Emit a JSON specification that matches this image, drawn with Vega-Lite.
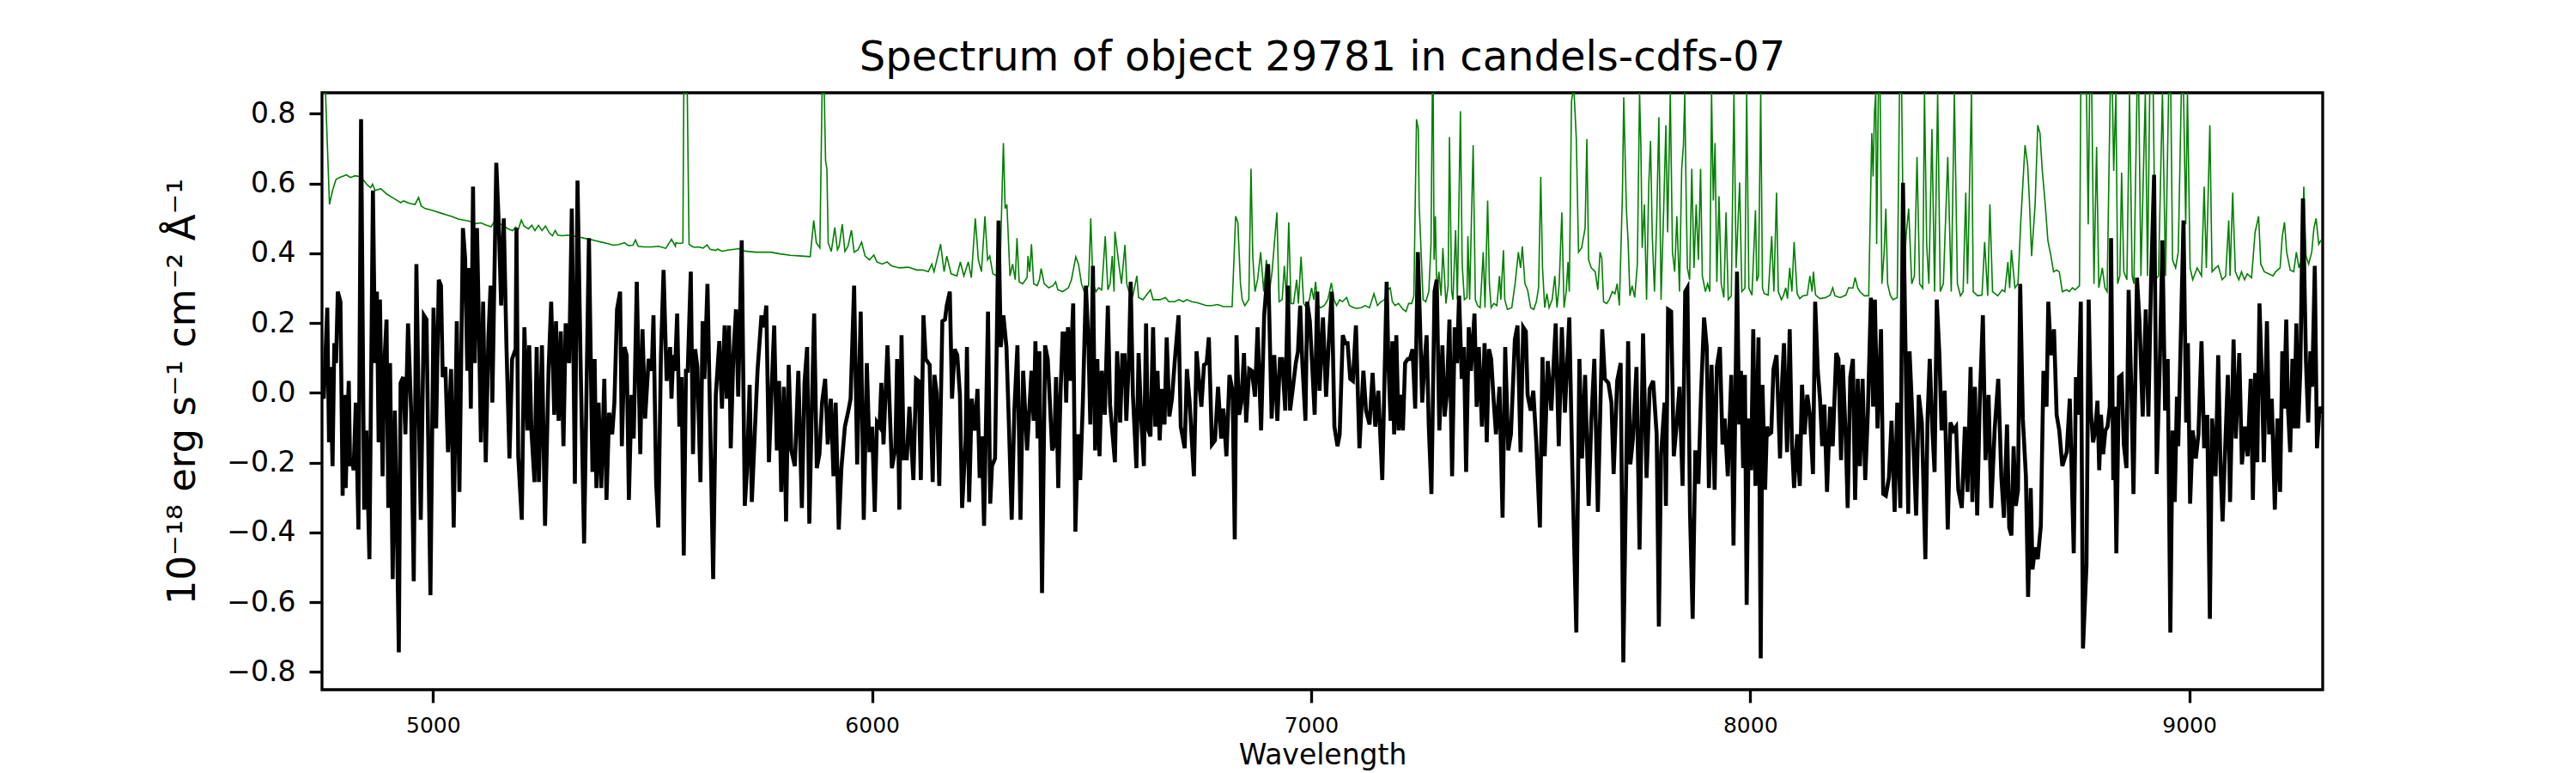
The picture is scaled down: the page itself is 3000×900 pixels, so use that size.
{
  "$schema": "https://vega.github.io/schema/vega-lite/v6.json",
  "autosize": {"type": "none"},
  "width": 2330,
  "height": 695,
  "padding": {"left": 375, "top": 108, "right": 295, "bottom": 97},
  "background": "white",
  "title": {
    "text": "Spectrum of object 29781 in candels-cdfs-07",
    "font": "DejaVu Sans",
    "fontSize": 48,
    "fontWeight": "normal",
    "color": "black",
    "anchor": "middle",
    "frame": "group",
    "baseline": "bottom",
    "offset": 14,
    "dy": 46
  },
  "config": {
    "view": {"stroke": "black", "strokeWidth": 3.3},
    "axis": {
      "grid": false,
      "domain": false,
      "ticks": true,
      "tickColor": "black",
      "tickWidth": 3.3,
      "tickSize": 15,
      "labelColor": "black",
      "labelFont": "DejaVu Sans",
      "titleFont": "DejaVu Sans",
      "titleColor": "black",
      "titleFontWeight": "normal"
    },
    "axisX": {"labelFontSize": 25, "labelPadding": 14, "titleFontSize": 33, "titlePadding": 6},
    "axisY": {"labelFontSize": 33, "labelPadding": 16, "titleFontSize": 45, "titlePadding": 28}
  },
  "datasets": {
    "flux": [
      {"w":4749,"f":-0.006},{"w":4751,"f":-0.017},{"w":4759,"f":0.244},{"w":4763,"f":-0.142},{"w":4766,"f":0.074},{"w":4771,"f":-0.210},{"w":4775,"f":0.142},{"w":4779,"f":0.085},{"w":4783,"f":0.290},{"w":4789,"f":0.261},
      {"w":4794,"f":-0.295},{"w":4798,"f":-0.006},{"w":4801,"f":-0.273},{"w":4804,"f":-0.119},{"w":4808,"f":0.034},{"w":4811,"f":-0.210},{"w":4815,"f":-0.188},{"w":4819,"f":-0.222},{"w":4824,"f":-0.028},{"w":4830,"f":-0.392},
      {"w":4836,"f":0.784},{"w":4843,"f":-0.335},{"w":4848,"f":-0.108},{"w":4855,"f":-0.477},{"w":4863,"f":0.580},{"w":4868,"f":0.085},{"w":4872,"f":0.290},{"w":4876,"f":-0.142},{"w":4879,"f":0.267},{"w":4885,"f":-0.239},
      {"w":4889,"f":0.085},{"w":4894,"f":0.210},{"w":4898,"f":-0.330},{"w":4902,"f":0.085},{"w":4908,"f":-0.534},{"w":4913,"f":-0.051},{"w":4917,"f":-0.335},{"w":4922,"f":-0.744},{"w":4926,"f":0.028},{"w":4932,"f":0.045},
      {"w":4937,"f":-0.119},{"w":4943,"f":0.199},{"w":4950,"f":-0.051},{"w":4956,"f":-0.540},{"w":4962,"f":0.369},{"w":4966,"f":0.063},{"w":4972,"f":-0.364},{"w":4979,"f":0.222},{"w":4985,"f":0.210},{"w":4994,"f":-0.580},
      {"w":5001,"f":0.244},{"w":5007,"f":-0.102},{"w":5013,"f":0.324},{"w":5018,"f":0.307},{"w":5022,"f":0.045},{"w":5028,"f":0.074},{"w":5034,"f":-0.170},{"w":5041,"f":0.068},{"w":5047,"f":-0.386},{"w":5054,"f":0.205},
      {"w":5060,"f":-0.284},{"w":5068,"f":0.472},{"w":5073,"f":0.386},{"w":5078,"f":0.063},{"w":5081,"f":0.358},{"w":5086,"f":-0.045},{"w":5091,"f":0.591},{"w":5095,"f":0.085},{"w":5100,"f":0.472},{"w":5105,"f":0.153},
      {"w":5109,"f":-0.142},{"w":5114,"f":0.261},{"w":5120,"f":-0.199},{"w":5126,"f":0.159},{"w":5131,"f":0.307},{"w":5135,"f":-0.028},{"w":5144,"f":0.659},{"w":5150,"f":0.472},{"w":5155,"f":0.250},{"w":5161,"f":0.500},
      {"w":5167,"f":0.142},{"w":5174,"f":-0.188},{"w":5180,"f":0.097},{"w":5188,"f":0.125},{"w":5190,"f":0.472},{"w":5194,"f":-0.182},{"w":5202,"f":-0.364},{"w":5208,"f":0.188},{"w":5215,"f":-0.108},{"w":5219,"f":0.136},
      {"w":5224,"f":-0.108},{"w":5231,"f":-0.256},{"w":5236,"f":0.131},{"w":5241,"f":-0.256},{"w":5248,"f":0.136},{"w":5255,"f":-0.381},{"w":5263,"f":0.063},{"w":5269,"f":0.261},{"w":5276,"f":-0.063},{"w":5280,"f":0.205},
      {"w":5286,"f":-0.080},{"w":5291,"f":0.176},{"w":5297,"f":-0.153},{"w":5302,"f":0.199},{"w":5310,"f":0.085},{"w":5316,"f":0.528},{"w":5323,"f":-0.261},{"w":5329,"f":0.608},{"w":5336,"f":0.085},{"w":5344,"f":-0.432},
      {"w":5355,"f":0.443},{"w":5363,"f":-0.227},{"w":5368,"f":0.097},{"w":5372,"f":-0.273},{"w":5377,"f":-0.028},{"w":5383,"f":-0.273},{"w":5390,"f":0.040},{"w":5395,"f":-0.307},{"w":5401,"f":-0.057},{"w":5408,"f":-0.119},
      {"w":5413,"f":-0.028},{"w":5419,"f":0.239},{"w":5426,"f":0.290},{"w":5430,"f":-0.153},{"w":5436,"f":0.131},{"w":5441,"f":0.108},{"w":5446,"f":-0.307},{"w":5452,"f":-0.006},{"w":5457,"f":-0.131},{"w":5464,"f":0.318},
      {"w":5472,"f":-0.176},{"w":5477,"f":0.182},{"w":5483,"f":-0.074},{"w":5491,"f":0.097},{"w":5498,"f":0.063},{"w":5502,"f":0.222},{"w":5508,"f":-0.256},{"w":5513,"f":-0.386},{"w":5519,"f":0.108},{"w":5525,"f":0.352},
      {"w":5532,"f":0.034},
      {"w":5540,"f":0.131},{"w":5543,"f":-0.017},{"w":5547,"f":0.108},{"w":5551,"f":0.063},{"w":5556,"f":0.227},{"w":5561,"f":-0.097},{"w":5566,"f":0.045},{"w":5571,"f":-0.466},{"w":5576,"f":0.063},{"w":5580,"f":0.063},
      {"w":5587,"f":0.347},{"w":5592,"f":-0.176},{"w":5597,"f":0.125},{"w":5602,"f":0.074},{"w":5609,"f":-0.256},{"w":5614,"f":0.205},{"w":5618,"f":0.040},{"w":5625,"f":0.312},{"w":5631,"f":-0.074},{"w":5638,"f":-0.534},
      {"w":5644,"f":-0.006},{"w":5652,"f":0.148},{"w":5658,"f":-0.045},{"w":5664,"f":0.193},{"w":5669,"f":-0.017},{"w":5674,"f":0.193},{"w":5678,"f":-0.159},{"w":5684,"f":0.108},{"w":5690,"f":0.239},{"w":5695,"f":-0.011},
      {"w":5703,"f":0.437},{"w":5710,"f":-0.324},{"w":5715,"f":-0.222},{"w":5721,"f":0.023},{"w":5726,"f":-0.313},{"w":5733,"f":-0.108},{"w":5739,"f":0.063},{"w":5748,"f":0.222},{"w":5754,"f":0.188},{"w":5759,"f":0.250},
      {"w":5765,"f":-0.199},{"w":5772,"f":0.040},{"w":5777,"f":0.193},{"w":5783,"f":-0.165},{"w":5788,"f":0.034},{"w":5793,"f":-0.284},{"w":5799,"f":0.017},{"w":5804,"f":-0.369},{"w":5810,"f":0.080},{"w":5816,"f":-0.165},
      {"w":5824,"f":-0.210},{"w":5832,"f":0.063},{"w":5840,"f":-0.330},{"w":5846,"f":0.028},{"w":5852,"f":0.131},{"w":5857,"f":-0.375},{"w":5863,"f":-0.028},{"w":5868,"f":0.227},{"w":5874,"f":-0.216},{"w":5880,"f":-0.176},
      {"w":5886,"f":-0.028},{"w":5893,"f":0.040},{"w":5899,"f":-0.148},{"w":5906,"f":-0.017},{"w":5912,"f":-0.239},{"w":5917,"f":-0.028},{"w":5924,"f":-0.392},{"w":5930,"f":-0.216},{"w":5938,"f":-0.097},{"w":5946,"f":-0.051},
      {"w":5951,"f":-0.017},{"w":5959,"f":0.307},{"w":5966,"f":-0.205},{"w":5974,"f":0.233},{"w":5981,"f":-0.364},{"w":5988,"f":0.085},{"w":5994,"f":-0.170},{"w":6000,"f":-0.097},{"w":6006,"f":-0.341},{"w":6011,"f":-0.085},
      {"w":6017,"f":-0.097},{"w":6021,"f":0.028},{"w":6026,"f":-0.148},{"w":6035,"f":0.136},{"w":6045,"f":-0.216},{"w":6053,"f":-0.159},{"w":6057,"f":0.097},{"w":6062,"f":-0.335},{"w":6067,"f":0.165},{"w":6072,"f":-0.188},
      {"w":6079,"f":-0.188},{"w":6085,"f":-0.040},{"w":6094,"f":-0.250},{"w":6100,"f":0.040},{"w":6106,"f":0.034},{"w":6111,"f":-0.250},{"w":6117,"f":0.222},{"w":6122,"f":0.097},{"w":6131,"f":0.080},{"w":6138,"f":-0.256},
      {"w":6142,"f":0.051},{"w":6147,"f":0.000},{"w":6153,"f":-0.267},{"w":6160,"f":0.205},{"w":6166,"f":0.210},{"w":6170,"f":0.250},{"w":6177,"f":0.290},{"w":6182,"f":-0.017},{"w":6188,"f":0.125},{"w":6194,"f":0.108},
      {"w":6200,"f":-0.006},{"w":6205,"f":-0.330},{"w":6213,"f":-0.136},{"w":6216,"f":0.131},{"w":6221,"f":-0.313},{"w":6227,"f":-0.017},{"w":6234,"f":-0.108},{"w":6240,"f":0.011},{"w":6245,"f":-0.244},{"w":6250,"f":-0.125},
      {"w":6255,"f":-0.381},{"w":6264,"f":0.233},{"w":6269,"f":-0.318},{"w":6273,"f":-0.210},{"w":6280,"f":-0.188},{"w":6288,"f":0.494},{"w":6293,"f":0.131},{"w":6299,"f":0.222},{"w":6306,"f":0.131},{"w":6312,"f":-0.108},
      {"w":6318,"f":-0.364},{"w":6324,"f":-0.051},{"w":6331,"f":0.136},{"w":6338,"f":-0.364},{"w":6344,"f":0.063},{"w":6353,"f":-0.165},
      {"w":6363,"f":0.063},{"w":6368,"f":-0.080},{"w":6372,"f":0.148},{"w":6377,"f":-0.131},{"w":6381,"f":0.119},{"w":6387,"f":-0.574},{"w":6394,"f":0.136},{"w":6400,"f":0.097},{"w":6405,"f":-0.028},{"w":6410,"f":-0.165},
      {"w":6415,"f":-0.148},{"w":6419,"f":0.045},{"w":6424,"f":-0.273},{"w":6429,"f":-0.006},{"w":6434,"f":0.170},{"w":6438,"f":0.170},{"w":6442,"f":-0.028},{"w":6446,"f":0.188},{"w":6451,"f":0.034},{"w":6458,"f":0.256},
      {"w":6463,"f":-0.398},{"w":6469,"f":-0.119},{"w":6474,"f":-0.250},{"w":6480,"f":-0.028},{"w":6487,"f":0.307},{"w":6493,"f":0.131},{"w":6497,"f":-0.091},{"w":6503,"f":0.364},{"w":6508,"f":-0.165},{"w":6513,"f":0.097},
      {"w":6518,"f":-0.182},{"w":6523,"f":0.063},{"w":6530,"f":-0.063},{"w":6537,"f":0.250},{"w":6542,"f":-0.034},{"w":6547,"f":-0.108},{"w":6553,"f":-0.199},{"w":6558,"f":0.119},{"w":6565,"f":-0.085},{"w":6570,"f":0.108},
      {"w":6575,"f":0.108},{"w":6579,"f":-0.080},{"w":6585,"f":0.102},{"w":6589,"f":0.318},{"w":6594,"f":-0.006},{"w":6602,"f":-0.216},{"w":6607,"f":0.114},{"w":6613,"f":-0.074},{"w":6619,"f":-0.210},{"w":6624,"f":0.199},
      {"w":6628,"f":-0.102},{"w":6634,"f":-0.125},{"w":6640,"f":0.188},{"w":6645,"f":-0.097},{"w":6650,"f":0.063},{"w":6655,"f":-0.136},{"w":6660,"f":0.011},{"w":6666,"f":-0.091},{"w":6671,"f":0.159},{"w":6677,"f":-0.068},
      {"w":6683,"f":-0.017},{"w":6689,"f":0.085},{"w":6698,"f":0.222},{"w":6703,"f":-0.097},{"w":6712,"f":-0.159},{"w":6717,"f":0.068},{"w":6723,"f":-0.023},{"w":6733,"f":-0.239},{"w":6739,"f":0.119},{"w":6745,"f":0.028},
      {"w":6750,"f":-0.040},{"w":6756,"f":0.080},{"w":6762,"f":0.085},{"w":6767,"f":0.159},{"w":6774,"f":-0.148},{"w":6781,"f":-0.136},{"w":6788,"f":0.017},{"w":6795,"f":-0.131},{"w":6800,"f":-0.045},{"w":6807,"f":-0.182},
      {"w":6814,"f":0.051},{"w":6821,"f":0.006},{"w":6826,"f":-0.420},{"w":6830,"f":0.165},{"w":6836,"f":-0.063},{"w":6841,"f":-0.028},{"w":6847,"f":0.114},{"w":6852,"f":-0.085},{"w":6859,"f":0.068},{"w":6865,"f":0.063},
      {"w":6872,"f":-0.011},{"w":6878,"f":0.188},{"w":6886,"f":-0.108},{"w":6893,"f":0.222},{"w":6902,"f":0.369},{"w":6910,"f":-0.074},{"w":6916,"f":0.108},{"w":6923,"f":-0.080},{"w":6929,"f":0.097},{"w":6934,"f":0.097},
      {"w":6941,"f":-0.051},{"w":6947,"f":0.307},{"w":6952,"f":-0.051},{"w":6958,"f":0.011},{"w":6965,"f":0.085},{"w":6970,"f":0.119},{"w":6975,"f":0.250},{"w":6980,"f":0.085},{"w":6987,"f":-0.080},{"w":6991,"f":0.261},
      {"w":6997,"f":0.205},{"w":7003,"f":0.063},{"w":7008,"f":-0.063},{"w":7014,"f":0.290},{"w":7019,"f":0.006},{"w":7027,"f":0.216},{"w":7034,"f":-0.011},{"w":7040,"f":0.142},{"w":7047,"f":0.290},{"w":7053,"f":-0.097},
      {"w":7060,"f":-0.153},{"w":7065,"f":-0.119},{"w":7072,"f":0.165},{"w":7078,"f":0.142},{"w":7083,"f":0.142},{"w":7089,"f":0.040},{"w":7095,"f":0.034},{"w":7102,"f":0.193},{"w":7110,"f":-0.159},{"w":7119,"f":0.063},
      {"w":7125,"f":-0.051},{"w":7133,"f":-0.091},{"w":7140,"f":0.057},{"w":7146,"f":-0.097},{"w":7153,"f":0.006},{"w":7162,"f":-0.250},
      {"w":7172,"f":0.318},{"w":7176,"f":0.085},{"w":7181,"f":-0.080},{"w":7185,"f":0.148},{"w":7189,"f":-0.119},{"w":7194,"f":0.165},{"w":7199,"f":-0.108},{"w":7204,"f":-0.006},{"w":7209,"f":-0.108},{"w":7214,"f":0.085},
      {"w":7220,"f":0.097},{"w":7225,"f":0.097},{"w":7231,"f":0.125},{"w":7237,"f":-0.045},{"w":7243,"f":0.403},{"w":7248,"f":0.199},{"w":7253,"f":-0.028},{"w":7258,"f":0.085},{"w":7263,"f":0.165},{"w":7268,"f":-0.097},
      {"w":7274,"f":-0.290},{"w":7281,"f":0.290},{"w":7286,"f":0.324},{"w":7292,"f":-0.108},{"w":7299,"f":0.136},{"w":7304,"f":-0.068},{"w":7309,"f":-0.006},{"w":7315,"f":0.210},{"w":7321,"f":-0.239},{"w":7327,"f":0.188},
      {"w":7332,"f":0.085},{"w":7337,"f":0.278},{"w":7343,"f":0.040},{"w":7348,"f":0.131},{"w":7353,"f":-0.227},{"w":7359,"f":0.188},{"w":7364,"f":0.063},{"w":7372,"f":0.227},{"w":7377,"f":-0.040},{"w":7382,"f":0.131},
      {"w":7389,"f":-0.097},{"w":7395,"f":0.142},{"w":7400,"f":-0.142},{"w":7405,"f":0.125},{"w":7410,"f":0.097},{"w":7416,"f":-0.028},{"w":7421,"f":-0.119},{"w":7429,"f":0.017},{"w":7436,"f":-0.358},{"w":7442,"f":0.131},
      {"w":7449,"f":-0.165},{"w":7455,"f":-0.119},{"w":7464,"f":0.153},{"w":7470,"f":0.193},{"w":7477,"f":-0.170},{"w":7483,"f":0.188},{"w":7489,"f":0.176},{"w":7493,"f":-0.006},{"w":7500,"f":-0.051},{"w":7506,"f":0.006},
      {"w":7513,"f":-0.148},{"w":7521,"f":-0.386},{"w":7527,"f":0.102},{"w":7532,"f":-0.182},{"w":7539,"f":0.091},{"w":7547,"f":-0.051},{"w":7557,"f":0.199},{"w":7564,"f":-0.153},{"w":7571,"f":0.188},{"w":7578,"f":-0.057},
      {"w":7588,"f":0.216},{"w":7595,"f":-0.222},{"w":7604,"f":-0.687},{"w":7611,"f":0.097},{"w":7617,"f":-0.188},{"w":7624,"f":0.051},{"w":7632,"f":-0.324},{"w":7638,"f":-0.085},{"w":7645,"f":0.097},{"w":7653,"f":-0.341},
      {"w":7663,"f":0.182},{"w":7669,"f":0.040},{"w":7677,"f":0.028},{"w":7684,"f":-0.028},{"w":7689,"f":-0.233},{"w":7697,"f":0.034},{"w":7705,"f":0.085},{"w":7711,"f":-0.773},{"w":7722,"f":0.148},{"w":7727,"f":-0.205},
      {"w":7733,"f":-0.131},{"w":7741,"f":0.074},{"w":7748,"f":-0.449},{"w":7756,"f":0.170},{"w":7764,"f":-0.244},{"w":7771,"f":0.011},{"w":7779,"f":0.034},{"w":7787,"f":-0.119},{"w":7792,"f":-0.670},{"w":7797,"f":-0.176},
      {"w":7805,"f":-0.028},{"w":7808,"f":-0.324},{"w":7813,"f":0.239},{"w":7820,"f":0.233},{"w":7826,"f":-0.182},{"w":7833,"f":-0.085},{"w":7839,"f":0.017},{"w":7846,"f":-0.267},{"w":7852,"f":0.290},{"w":7857,"f":0.301},
      {"w":7863,"f":-0.347},{"w":7869,"f":-0.648},{"w":7875,"f":-0.165},{"w":7882,"f":-0.261},{"w":7888,"f":-0.006},{"w":7895,"f":0.216},{"w":7901,"f":0.131},{"w":7906,"f":-0.273},{"w":7912,"f":0.080},{"w":7919,"f":-0.278},
      {"w":7924,"f":0.074},{"w":7931,"f":0.131},{"w":7937,"f":-0.148},{"w":7942,"f":-0.074},{"w":7949,"f":-0.239},{"w":7957,"f":0.051},{"w":7962,"f":-0.438},
      {"w":7970,"f":0.347},{"w":7975,"f":-0.091},{"w":7979,"f":0.063},{"w":7984,"f":-0.216},{"w":7988,"f":0.051},{"w":7992,"f":-0.608},{"w":7997,"f":-0.074},{"w":8002,"f":-0.222},{"w":8007,"f":0.182},{"w":8012,"f":-0.267},
      {"w":8019,"f":0.159},{"w":8024,"f":-0.761},{"w":8028,"f":0.023},{"w":8034,"f":-0.278},{"w":8038,"f":-0.097},{"w":8043,"f":-0.119},{"w":8048,"f":-0.114},{"w":8053,"f":0.068},{"w":8060,"f":0.108},{"w":8068,"f":-0.188},
      {"w":8073,"f":0.040},{"w":8077,"f":0.142},{"w":8084,"f":-0.170},{"w":8090,"f":0.182},{"w":8095,"f":-0.142},{"w":8100,"f":-0.273},{"w":8107,"f":-0.119},{"w":8113,"f":-0.267},{"w":8118,"f":0.023},{"w":8124,"f":-0.119},
      {"w":8130,"f":-0.006},{"w":8136,"f":-0.063},{"w":8143,"f":-0.233},{"w":8148,"f":0.261},{"w":8154,"f":0.063},{"w":8159,"f":-0.017},{"w":8164,"f":-0.153},{"w":8169,"f":-0.034},{"w":8175,"f":-0.284},{"w":8182,"f":-0.040},
      {"w":8188,"f":-0.153},{"w":8196,"f":0.114},{"w":8201,"f":0.097},{"w":8207,"f":-0.193},{"w":8211,"f":0.080},{"w":8218,"f":-0.142},{"w":8222,"f":-0.330},{"w":8228,"f":0.045},{"w":8234,"f":0.097},{"w":8239,"f":-0.307},
      {"w":8245,"f":0.040},{"w":8250,"f":-0.210},{"w":8256,"f":0.040},{"w":8262,"f":-0.250},{"w":8268,"f":-0.057},{"w":8275,"f":0.273},{"w":8280,"f":-0.040},{"w":8284,"f":0.267},{"w":8290,"f":-0.102},{"w":8298,"f":0.182},
      {"w":8303,"f":-0.290},{"w":8309,"f":-0.295},{"w":8316,"f":-0.244},{"w":8322,"f":-0.080},{"w":8329,"f":-0.341},{"w":8335,"f":-0.028},{"w":8342,"f":-0.330},{"w":8348,"f":0.602},{"w":8355,"f":0.028},{"w":8360,"f":-0.347},
      {"w":8363,"f":0.119},{"w":8370,"f":-0.085},{"w":8378,"f":-0.352},{"w":8384,"f":-0.006},{"w":8391,"f":-0.085},{"w":8399,"f":-0.477},{"w":8404,"f":-0.074},{"w":8409,"f":0.097},{"w":8415,"f":-0.108},{"w":8420,"f":-0.227},
      {"w":8425,"f":0.267},{"w":8431,"f":0.108},{"w":8436,"f":-0.108},{"w":8443,"f":0.006},{"w":8450,"f":-0.392},{"w":8456,"f":-0.085},{"w":8463,"f":-0.108},{"w":8469,"f":-0.097},{"w":8474,"f":-0.278},{"w":8482,"f":-0.330},
      {"w":8489,"f":-0.097},{"w":8495,"f":-0.284},{"w":8502,"f":0.074},{"w":8506,"f":-0.313},{"w":8512,"f":0.017},{"w":8517,"f":-0.352},{"w":8523,"f":-0.023},{"w":8530,"f":0.222},{"w":8536,"f":-0.193},{"w":8543,"f":-0.006},
      {"w":8549,"f":-0.330},{"w":8557,"f":-0.102},{"w":8565,"f":0.040},{"w":8572,"f":-0.239},{"w":8578,"f":-0.358},{"w":8585,"f":-0.091},{"w":8590,"f":-0.386},{"w":8595,"f":-0.409},{"w":8600,"f":-0.153},{"w":8605,"f":-0.324},
      {"w":8610,"f":-0.278},{"w":8615,"f":0.312},{"w":8621,"f":-0.074},{"w":8628,"f":-0.239},{"w":8633,"f":-0.585},{"w":8639,"f":-0.273},{"w":8643,"f":-0.506},{"w":8649,"f":-0.443},{"w":8655,"f":-0.477},{"w":8662,"f":-0.381},
      {"w":8668,"f":0.063},{"w":8675,"f":-0.040},{"w":8679,"f":0.261},{"w":8685,"f":0.108},{"w":8692,"f":0.182},{"w":8698,"f":-0.063},{"w":8704,"f":-0.108},{"w":8711,"f":-0.210},{"w":8721,"f":-0.170},{"w":8728,"f":-0.017},
      {"w":8737,"f":-0.460},{"w":8742,"f":0.045},{"w":8747,"f":-0.063},{"w":8753,"f":0.261},{"w":8758,"f":-0.733},{"w":8766,"f":-0.494},{"w":8771,"f":0.267},
      {"w":8776,"f":-0.051},{"w":8781,"f":-0.142},{"w":8786,"f":-0.108},{"w":8791,"f":-0.023},{"w":8795,"f":-0.222},{"w":8799,"f":-0.063},{"w":8804,"f":-0.176},{"w":8809,"f":-0.108},{"w":8814,"f":-0.097},{"w":8819,"f":-0.040},
      {"w":8822,"f":0.443},{"w":8827,"f":-0.250},{"w":8830,"f":-0.040},{"w":8834,"f":-0.460},{"w":8840,"f":0.045},{"w":8846,"f":0.051},{"w":8851,"f":-0.148},{"w":8857,"f":-0.216},{"w":8862,"f":0.295},{"w":8868,"f":0.017},
      {"w":8873,"f":-0.290},{"w":8881,"f":0.330},{"w":8887,"f":0.199},{"w":8894,"f":-0.068},{"w":8901,"f":0.239},{"w":8907,"f":-0.068},{"w":8913,"f":0.318},{"w":8920,"f":0.625},{"w":8926,"f":-0.233},{"w":8933,"f":0.085},
      {"w":8939,"f":0.437},{"w":8945,"f":-0.051},{"w":8951,"f":0.097},{"w":8957,"f":-0.687},{"w":8962,"f":-0.108},{"w":8967,"f":-0.313},{"w":8972,"f":-0.011},{"w":8975,"f":-0.153},{"w":8981,"f":0.170},{"w":8987,"f":0.494},
      {"w":8993,"f":-0.085},{"w":8997,"f":0.142},{"w":9002,"f":-0.318},{"w":9008,"f":-0.108},{"w":9015,"f":-0.188},{"w":9021,"f":-0.119},{"w":9028,"f":0.148},{"w":9034,"f":-0.159},{"w":9041,"f":-0.063},{"w":9047,"f":-0.648},
      {"w":9052,"f":-0.074},{"w":9060,"f":-0.239},{"w":9066,"f":0.108},{"w":9071,"f":-0.199},{"w":9076,"f":-0.369},{"w":9081,"f":-0.188},{"w":9088,"f":0.051},{"w":9093,"f":-0.313},{"w":9101,"f":0.153},{"w":9106,"f":-0.131},
      {"w":9114,"f":0.114},{"w":9120,"f":-0.205},{"w":9127,"f":-0.097},{"w":9133,"f":-0.182},{"w":9140,"f":0.040},{"w":9145,"f":-0.307},{"w":9150,"f":0.057},{"w":9155,"f":-0.199},{"w":9160,"f":0.256},{"w":9165,"f":0.063},
      {"w":9170,"f":-0.199},{"w":9177,"f":0.205},{"w":9182,"f":-0.119},{"w":9188,"f":-0.017},{"w":9195,"f":-0.335},{"w":9201,"f":-0.074},{"w":9207,"f":-0.284},{"w":9212,"f":0.119},{"w":9216,"f":-0.045},{"w":9221,"f":0.210},
      {"w":9225,"f":-0.045},{"w":9230,"f":-0.170},{"w":9235,"f":0.097},{"w":9239,"f":-0.102},{"w":9244,"f":0.199},{"w":9248,"f":-0.102},{"w":9253,"f":0.063},{"w":9259,"f":0.557},{"w":9266,"f":0.085},{"w":9271,"f":-0.085},
      {"w":9276,"f":0.119},{"w":9280,"f":0.017},{"w":9286,"f":0.364},{"w":9291,"f":-0.159},{"w":9297,"f":-0.040},{"w":9302,"f":-0.060}
    ],
    "sky": [
      {"w":4748,"f":1.2},{"w":4755,"f":0.95},{"w":4764,"f":0.540},{"w":4771,"f":0.58},{"w":4779,"f":0.612},{"w":4789,"f":0.618},{"w":4797,"f":0.622},{"w":4802,"f":0.625},{"w":4812,"f":0.617},{"w":4822,"f":0.622},
      {"w":4832,"f":0.620},{"w":4841,"f":0.610},{"w":4851,"f":0.595},{"w":4858,"f":0.588},{"w":4862,"f":0.598},{"w":4868,"f":0.580},{"w":4881,"f":0.585},{"w":4894,"f":0.570},{"w":4907,"f":0.560},{"w":4920,"f":0.550},
      {"w":4926,"f":0.545},{"w":4933,"f":0.550},{"w":4946,"f":0.543},{"w":4959,"f":0.540},{"w":4967,"f":0.560},{"w":4973,"f":0.535},{"w":4982,"f":0.528},{"w":4992,"f":0.525},{"w":5005,"f":0.520},{"w":5018,"f":0.515},
      {"w":5031,"f":0.510},{"w":5044,"f":0.505},{"w":5057,"f":0.498},{"w":5070,"f":0.495},{"w":5083,"f":0.492},{"w":5096,"f":0.485},{"w":5109,"f":0.487},{"w":5122,"f":0.480},{"w":5132,"f":0.476},{"w":5142,"f":0.495},
      {"w":5152,"f":0.485},{"w":5161,"f":0.478},{"w":5171,"f":0.470},{"w":5181,"f":0.465},{"w":5188,"f":0.475},{"w":5194,"f":0.468},{"w":5201,"f":0.495},{"w":5207,"f":0.478},{"w":5217,"f":0.470},{"w":5225,"f":0.480},
      {"w":5232,"f":0.465},{"w":5240,"f":0.480},{"w":5248,"f":0.465},{"w":5256,"f":0.478},{"w":5265,"f":0.458},{"w":5272,"f":0.450},{"w":5278,"f":0.465},{"w":5284,"f":0.452},{"w":5295,"f":0.450},{"w":5305,"f":0.452},
      {"w":5318,"f":0.450},{"w":5331,"f":0.447},{"w":5344,"f":0.443},{"w":5357,"f":0.440},{"w":5370,"f":0.436},{"w":5383,"f":0.432},{"w":5397,"f":0.428},{"w":5410,"f":0.423},{"w":5423,"f":0.425},{"w":5436,"f":0.430},
      {"w":5445,"f":0.422},{"w":5455,"f":0.423},{"w":5461,"f":0.438},{"w":5467,"f":0.420},{"w":5481,"f":0.418},{"w":5498,"f":0.418},{"w":5514,"f":0.420},{"w":5530,"f":0.414},{"w":5543,"f":0.440},{"w":5552,"f":0.420},
      {"w":5553,"f":0.430},{"w":5563,"f":0.428},{"w":5569,"f":0.430},{"w":5571,"f":0.95},{"w":5579,"f":0.95},{"w":5583,"f":0.426},{"w":5589,"f":0.420},{"w":5596,"f":0.417},{"w":5605,"f":0.418},{"w":5615,"f":0.415},
      {"w":5624,"f":0.424},{"w":5631,"f":0.411},{"w":5644,"f":0.408},{"w":5648,"f":0.412},{"w":5658,"f":0.406},{"w":5671,"f":0.409},{"w":5697,"f":0.413},{"w":5710,"f":0.406},{"w":5736,"f":0.403},{"w":5769,"f":0.403},
      {"w":5791,"f":0.398},{"w":5814,"f":0.394},{"w":5840,"f":0.392},{"w":5859,"f":0.390},{"w":5867,"f":0.494},{"w":5873,"f":0.430},{"w":5881,"f":0.415},{"w":5886,"f":0.95},{"w":5891,"f":0.95},{"w":5894,"f":0.665},
      {"w":5897,"f":0.642},{"w":5900,"f":0.430},{"w":5907,"f":0.405},{"w":5915,"f":0.474},{"w":5921,"f":0.410},{"w":5925,"f":0.420},{"w":5932,"f":0.483},{"w":5938,"f":0.405},{"w":5945,"f":0.420},{"w":5953,"f":0.466},
      {"w":5959,"f":0.403},{"w":5968,"f":0.410},{"w":5976,"f":0.432},{"w":5984,"f":0.392},{"w":5994,"f":0.381},{"w":6004,"f":0.395},{"w":6011,"f":0.375},{"w":6023,"f":0.369},{"w":6034,"f":0.375},{"w":6044,"f":0.364},
      {"w":6062,"f":0.358},{"w":6082,"f":0.360},{"w":6102,"f":0.352},{"w":6115,"f":0.352},{"w":6128,"f":0.347},{"w":6136,"f":0.369},{"w":6141,"f":0.347},{"w":6156,"f":0.426},{"w":6164,"f":0.347},{"w":6170,"f":0.392},
      {"w":6180,"f":0.341},{"w":6193,"f":0.335},{"w":6201,"f":0.375},{"w":6209,"f":0.335},{"w":6219,"f":0.375},{"w":6226,"f":0.330},{"w":6235,"f":0.500},{"w":6242,"f":0.381},{"w":6249,"f":0.347},{"w":6257,"f":0.506},
      {"w":6263,"f":0.381},{"w":6268,"f":0.392},{"w":6275,"f":0.341},{"w":6284,"f":0.335},{"w":6291,"f":0.335},{"w":6299,"f":0.716},{"w":6303,"f":0.528},{"w":6307,"f":0.540},{"w":6314,"f":0.335},{"w":6320,"f":0.369},
      {"w":6326,"f":0.324},{"w":6330,"f":0.443},{"w":6335,"f":0.318},{"w":6343,"f":0.3125},{"w":6353,"f":0.330},
      {"w":6355,"f":0.392},{"w":6359,"f":0.347},{"w":6363,"f":0.426},{"w":6368,"f":0.3125},{"w":6376,"f":0.307},{"w":6381,"f":0.324},{"w":6385,"f":0.356},{"w":6392,"f":0.3125},{"w":6402,"f":0.301},{"w":6412,"f":0.307},
      {"w":6418,"f":0.318},{"w":6423,"f":0.295},{"w":6434,"f":0.290},{"w":6447,"f":0.301},{"w":6454,"f":0.324},{"w":6464,"f":0.390},{"w":6470,"f":0.369},{"w":6477,"f":0.3125},{"w":6483,"f":0.290},{"w":6493,"f":0.307},
      {"w":6498,"f":0.500},{"w":6503,"f":0.3125},{"w":6510,"f":0.290},{"w":6516,"f":0.301},{"w":6523,"f":0.295},{"w":6531,"f":0.449},{"w":6537,"f":0.295},{"w":6542,"f":0.3125},{"w":6547,"f":0.392},{"w":6551,"f":0.290},
      {"w":6553,"f":0.462},{"w":6562,"f":0.369},{"w":6568,"f":0.3125},{"w":6576,"f":0.424},{"w":6580,"f":0.3125},{"w":6585,"f":0.290},{"w":6594,"f":0.278},{"w":6603,"f":0.335},{"w":6607,"f":0.273},{"w":6617,"f":0.267},
      {"w":6627,"f":0.284},{"w":6634,"f":0.295},{"w":6640,"f":0.267},{"w":6656,"f":0.267},{"w":6668,"f":0.273},{"w":6676,"f":0.261},{"w":6689,"f":0.261},{"w":6699,"f":0.267},{"w":6709,"f":0.261},{"w":6717,"f":0.267},
      {"w":6728,"f":0.261},{"w":6741,"f":0.258},{"w":6761,"f":0.250},{"w":6774,"f":0.250},{"w":6787,"f":0.253},{"w":6800,"f":0.247},{"w":6820,"f":0.247},{"w":6828,"f":0.506},{"w":6833,"f":0.489},{"w":6839,"f":0.3125},
      {"w":6843,"f":0.267},{"w":6849,"f":0.250},{"w":6858,"f":0.267},{"w":6863,"f":0.642},{"w":6867,"f":0.392},{"w":6872,"f":0.290},{"w":6878,"f":0.324},{"w":6885,"f":0.403},{"w":6892,"f":0.290},{"w":6898,"f":0.381},
      {"w":6905,"f":0.290},{"w":6911,"f":0.347},{"w":6922,"f":0.517},{"w":6927,"f":0.261},{"w":6934,"f":0.267},{"w":6939,"f":0.364},{"w":6944,"f":0.267},{"w":6949,"f":0.489},{"w":6954,"f":0.256},{"w":6960,"f":0.256},
      {"w":6967,"f":0.324},{"w":6971,"f":0.256},{"w":6977,"f":0.390},{"w":6983,"f":0.256},{"w":6989,"f":0.244},{"w":6996,"f":0.267},{"w":7001,"f":0.301},{"w":7006,"f":0.267},{"w":7010,"f":0.318},{"w":7016,"f":0.250},
      {"w":7022,"f":0.244},{"w":7030,"f":0.250},{"w":7038,"f":0.267},{"w":7046,"f":0.315},{"w":7052,"f":0.267},{"w":7058,"f":0.250},{"w":7065,"f":0.267},{"w":7071,"f":0.261},{"w":7081,"f":0.273},{"w":7087,"f":0.250},
      {"w":7097,"f":0.244},{"w":7104,"f":0.242},{"w":7114,"f":0.244},{"w":7123,"f":0.250},{"w":7133,"f":0.244},{"w":7143,"f":0.284},{"w":7151,"f":0.250},{"w":7159,"f":0.261},
      {"w":7160,"f":0.261},{"w":7167,"f":0.267},{"w":7173,"f":0.295},{"w":7180,"f":0.301},{"w":7185,"f":0.261},{"w":7191,"f":0.250},{"w":7199,"f":0.256},{"w":7209,"f":0.239},{"w":7216,"f":0.233},{"w":7222,"f":0.256},
      {"w":7229,"f":0.256},{"w":7234,"f":0.278},{"w":7237,"f":0.540},{"w":7240,"f":0.784},{"w":7244,"f":0.756},{"w":7246,"f":0.540},{"w":7251,"f":0.386},{"w":7255,"f":0.267},{"w":7261,"f":0.261},{"w":7268,"f":0.290},
      {"w":7273,"f":0.426},{"w":7276,"f":1.2},{"w":7278,"f":1.2},{"w":7280,"f":0.381},{"w":7283,"f":0.506},{"w":7286,"f":0.290},{"w":7291,"f":0.347},{"w":7296,"f":0.278},{"w":7300,"f":0.415},{"w":7307,"f":0.256},
      {"w":7312,"f":0.307},{"w":7315,"f":0.733},{"w":7320,"f":0.290},{"w":7323,"f":0.267},{"w":7329,"f":0.466},{"w":7333,"f":0.267},{"w":7340,"f":0.807},{"w":7344,"f":0.369},{"w":7349,"f":0.267},{"w":7355,"f":0.273},
      {"w":7357,"f":0.449},{"w":7361,"f":0.267},{"w":7369,"f":0.710},{"w":7374,"f":0.267},{"w":7379,"f":0.250},{"w":7385,"f":0.244},{"w":7392,"f":0.403},{"w":7396,"f":0.244},{"w":7402,"f":0.551},{"w":7406,"f":0.3125},
      {"w":7410,"f":0.244},{"w":7416,"f":0.256},{"w":7423,"f":0.250},{"w":7429,"f":0.335},{"w":7432,"f":0.267},{"w":7438,"f":0.409},{"w":7441,"f":0.267},{"w":7447,"f":0.239},{"w":7457,"f":0.244},{"w":7465,"f":0.318},
      {"w":7472,"f":0.403},{"w":7477,"f":0.358},{"w":7481,"f":0.420},{"w":7487,"f":0.3125},{"w":7493,"f":0.295},{"w":7500,"f":0.244},{"w":7507,"f":0.239},{"w":7513,"f":0.261},{"w":7518,"f":0.301},{"w":7523,"f":0.619},
      {"w":7527,"f":0.358},{"w":7532,"f":0.244},{"w":7537,"f":0.284},{"w":7542,"f":0.244},{"w":7549,"f":0.267},{"w":7555,"f":0.335},{"w":7560,"f":0.244},{"w":7565,"f":0.3125},{"w":7571,"f":0.517},{"w":7576,"f":0.244},
      {"w":7581,"f":0.290},{"w":7585,"f":0.375},{"w":7588,"f":0.290},{"w":7593,"f":0.835},{"w":7596,"f":1.2},{"w":7599,"f":0.858},{"w":7604,"f":0.727},{"w":7609,"f":0.403},{"w":7616,"f":0.415},{"w":7624,"f":0.472},
      {"w":7628,"f":0.727},{"w":7632,"f":0.381},{"w":7638,"f":0.358},{"w":7647,"f":0.347},{"w":7653,"f":0.295},{"w":7658,"f":0.403},{"w":7662,"f":0.386},{"w":7666,"f":0.261},{"w":7673,"f":0.256},{"w":7679,"f":0.267},
      {"w":7686,"f":0.290},{"w":7692,"f":0.284},{"w":7697,"f":0.3125},{"w":7702,"f":0.250},{"w":7709,"f":0.568},{"w":7712,"f":0.847},{"w":7718,"f":0.528},{"w":7722,"f":0.432},{"w":7726,"f":0.278},{"w":7731,"f":0.307},
      {"w":7737,"f":0.273},{"w":7743,"f":0.369},{"w":7748,"f":1.2},{"w":7751,"f":0.71},{"w":7754,"f":0.415},{"w":7759,"f":0.540},{"w":7764,"f":0.267},{"w":7769,"f":0.597},{"w":7773,"f":0.722},{"w":7777,"f":0.449},
      {"w":7782,"f":0.290},{"w":7787,"f":0.494},{"w":7792,"f":0.790},{"w":7797,"f":0.267},{"w":7803,"f":0.528},{"w":7808,"f":0.767},{"w":7812,"f":0.460},{"w":7818,"f":1.2},{"w":7823,"f":0.403},{"w":7828,"f":0.347},
      {"w":7833,"f":0.506},{"w":7839,"f":0.290},{"w":7844,"f":0.642},{"w":7848,"f":0.71},{"w":7851,"f":1.2},{"w":7854,"f":0.574},{"w":7857,"f":0.358},{"w":7862,"f":0.324},{"w":7867,"f":0.642},{"w":7872,"f":0.358},
      {"w":7877,"f":0.540},{"w":7882,"f":0.381},{"w":7887,"f":0.642},{"w":7891,"f":0.335},{"w":7898,"f":0.290},{"w":7903,"f":0.3125},{"w":7908,"f":0.290},{"w":7912,"f":1.2},{"w":7916,"f":0.551},{"w":7920,"f":0.716},
      {"w":7924,"f":0.318},{"w":7929,"f":0.563},{"w":7934,"f":0.3125},{"w":7940,"f":0.273},{"w":7945,"f":0.517},{"w":7950,"f":0.267},{"w":7957,"f":0.278},{"w":7963,"f":1.2},{"w":7968,"f":0.358},
      {"w":7976,"f":0.603},{"w":7981,"f":0.290},{"w":7988,"f":0.30},{"w":7992,"f":1.2},{"w":7997,"f":0.30},{"w":8004,"f":0.28},{"w":8012,"f":0.523},{"w":8015,"f":0.32},{"w":8019,"f":0.335},{"w":8024,"f":1.2},
      {"w":8028,"f":0.30},{"w":8032,"f":0.284},{"w":8041,"f":0.28},{"w":8049,"f":0.449},{"w":8054,"f":0.290},{"w":8060,"f":0.574},{"w":8064,"f":0.290},{"w":8071,"f":0.267},{"w":8076,"f":0.28},{"w":8081,"f":0.301},
      {"w":8085,"f":0.27},{"w":8090,"f":0.358},{"w":8095,"f":0.290},{"w":8100,"f":0.432},{"w":8107,"f":0.284},{"w":8113,"f":0.27},{"w":8120,"f":0.278},{"w":8130,"f":0.28},{"w":8136,"f":0.335},{"w":8141,"f":0.29},
      {"w":8144,"f":0.347},{"w":8149,"f":0.28},{"w":8159,"f":0.27},{"w":8172,"f":0.273},{"w":8182,"f":0.28},{"w":8188,"f":0.301},{"w":8193,"f":0.278},{"w":8205,"f":0.273},{"w":8218,"f":0.28},{"w":8224,"f":0.301},
      {"w":8234,"f":0.30},{"w":8239,"f":0.330},{"w":8245,"f":0.30},{"w":8250,"f":0.290},{"w":8260,"f":0.278},{"w":8270,"f":0.278},{"w":8277,"f":0.744},{"w":8280,"f":0.62},{"w":8283,"f":0.80},{"w":8286,"f":1.2},
      {"w":8288,"f":0.426},{"w":8292,"f":1.2},{"w":8296,"f":1.2},{"w":8300,"f":0.3125},{"w":8305,"f":0.40},{"w":8309,"f":0.528},{"w":8313,"f":0.3125},{"w":8319,"f":0.28},{"w":8325,"f":0.267},{"w":8335,"f":0.273},
      {"w":8340,"f":1.2},{"w":8345,"f":1.2},{"w":8350,"f":0.3125},{"w":8355,"f":0.45},{"w":8361,"f":0.528},{"w":8368,"f":0.3125},{"w":8374,"f":0.335},{"w":8380,"f":0.676},{"w":8386,"f":0.3125},{"w":8393,"f":0.30},
      {"w":8397,"f":1.2},{"w":8402,"f":0.426},{"w":8407,"f":0.3125},{"w":8414,"f":0.756},{"w":8420,"f":0.290},{"w":8427,"f":1.2},{"w":8433,"f":0.290},{"w":8440,"f":0.3125},{"w":8450,"f":0.676},{"w":8458,"f":0.290},
      {"w":8465,"f":1.2},{"w":8472,"f":0.3125},{"w":8479,"f":0.278},{"w":8485,"f":0.29},{"w":8491,"f":0.574},{"w":8495,"f":0.3125},{"w":8504,"f":1.2},{"w":8508,"f":0.290},{"w":8518,"f":0.278},{"w":8528,"f":0.28},
      {"w":8534,"f":0.432},{"w":8541,"f":0.278},{"w":8546,"f":0.540},{"w":8552,"f":0.290},{"w":8564,"f":0.278},{"w":8574,"f":0.295},{"w":8580,"f":0.290},{"w":8587,"f":0.375},{"w":8591,"f":0.30},{"w":8595,"f":0.409},
      {"w":8603,"f":0.301},{"w":8610,"f":0.3125},{"w":8616,"f":0.483},{"w":8626,"f":0.710},{"w":8632,"f":0.653},{"w":8636,"f":0.55},{"w":8641,"f":0.392},{"w":8649,"f":0.540},{"w":8655,"f":0.767},{"w":8660,"f":0.744},
      {"w":8665,"f":0.642},{"w":8672,"f":0.540},{"w":8678,"f":0.437},{"w":8685,"f":0.392},{"w":8691,"f":0.347},{"w":8698,"f":0.352},{"w":8704,"f":0.347},{"w":8711,"f":0.290},{"w":8721,"f":0.295},{"w":8727,"f":0.290},
      {"w":8734,"f":0.301},{"w":8740,"f":0.295},{"w":8750,"f":0.307},
      {"w":8753,"f":1.2},{"w":8766,"f":1.2},{"w":8770,"f":0.483},{"w":8773,"f":1.2},{"w":8778,"f":1.2},{"w":8783,"f":0.3125},{"w":8789,"f":0.705},{"w":8794,"f":0.301},{"w":8802,"f":0.358},{"w":8808,"f":0.301},
      {"w":8813,"f":0.290},{"w":8820,"f":1.2},{"w":8825,"f":1.2},{"w":8828,"f":0.636},{"w":8833,"f":1.2},{"w":8837,"f":0.3125},{"w":8842,"f":0.335},{"w":8846,"f":0.631},{"w":8851,"f":0.347},{"w":8858,"f":0.324},
      {"w":8864,"f":1.2},{"w":8870,"f":0.335},{"w":8874,"f":0.3125},{"w":8881,"f":1.2},{"w":8885,"f":1.2},{"w":8890,"f":0.335},{"w":8900,"f":1.2},{"w":8905,"f":0.335},{"w":8910,"f":1.2},{"w":8918,"f":1.2},
      {"w":8923,"f":0.324},{"w":8930,"f":0.335},{"w":8939,"f":1.2},{"w":8946,"f":0.335},{"w":8953,"f":1.2},{"w":8958,"f":1.2},{"w":8962,"f":0.381},{"w":8969,"f":0.358},{"w":8975,"f":0.403},{"w":8982,"f":1.2},
      {"w":8987,"f":1.2},{"w":8992,"f":0.483},{"w":8996,"f":1.2},{"w":9002,"f":0.358},{"w":9008,"f":0.324},{"w":9018,"f":0.358},{"w":9028,"f":0.335},{"w":9034,"f":0.591},{"w":9039,"f":0.358},{"w":9047,"f":0.767},
      {"w":9052,"f":0.347},{"w":9060,"f":0.358},{"w":9066,"f":0.364},{"w":9075,"f":0.324},{"w":9083,"f":0.335},{"w":9090,"f":0.494},{"w":9093,"f":0.335},{"w":9099,"f":0.574},{"w":9105,"f":0.347},{"w":9113,"f":0.324},
      {"w":9119,"f":0.347},{"w":9126,"f":0.324},{"w":9132,"f":0.341},{"w":9142,"f":0.330},{"w":9150,"f":0.460},{"w":9158,"f":0.506},{"w":9163,"f":0.369},{"w":9171,"f":0.347},{"w":9181,"f":0.341},{"w":9191,"f":0.335},
      {"w":9197,"f":0.347},{"w":9207,"f":0.358},{"w":9212,"f":0.449},{"w":9217,"f":0.489},{"w":9222,"f":0.403},{"w":9230,"f":0.352},{"w":9238,"f":0.347},{"w":9244,"f":0.403},{"w":9250,"f":0.358},{"w":9256,"f":0.381},
      {"w":9261,"f":0.591},{"w":9266,"f":0.392},{"w":9272,"f":0.369},{"w":9279,"f":0.403},{"w":9284,"f":0.472},{"w":9289,"f":0.500},{"w":9295,"f":0.426},{"w":9300,"f":0.4375}
    ]
  },
  "layer": [
    {
      "data": {"name": "sky"},
      "mark": {"type": "line", "color": "#008000", "strokeWidth": 1.6, "clip": true},
      "encoding": {
        "x": {"field": "w", "type": "quantitative", "title": "Wavelength", "scale": {"domain": [4747, 9304], "nice": false, "zero": false}, "axis": {"values": [5000, 6000, 7000, 8000, 9000], "format": "d"}},
        "y": {"field": "f", "type": "quantitative", "title": "10⁻¹⁸ erg s⁻¹ cm⁻² Å⁻¹", "scale": {"domain": [-0.851, 0.86], "nice": false, "zero": false, "clamp": true}, "axis": {"values": [-0.8, -0.6, -0.4, -0.2, 0, 0.2, 0.4, 0.6, 0.8], "format": ".1f", "labelFontSize": 33}}
      }
    },
    {
      "mark": {"type": "rule", "color": "#0000ff", "strokeWidth": 5},
      "encoding": {
        "y": {"datum": 0, "type": "quantitative", "title": "10⁻¹⁸ erg s⁻¹ cm⁻² Å⁻¹"}
      }
    },
    {
      "data": {"name": "flux"},
      "mark": {"type": "line", "color": "black", "strokeWidth": 4.6, "clip": true},
      "encoding": {
        "x": {"field": "w", "type": "quantitative", "title": "Wavelength", "scale": {"domain": [4747, 9304], "nice": false, "zero": false}},
        "y": {"field": "f", "type": "quantitative", "title": "10⁻¹⁸ erg s⁻¹ cm⁻² Å⁻¹", "scale": {"domain": [-0.851, 0.86], "nice": false, "zero": false, "clamp": true}}
      }
    }
  ]
}
